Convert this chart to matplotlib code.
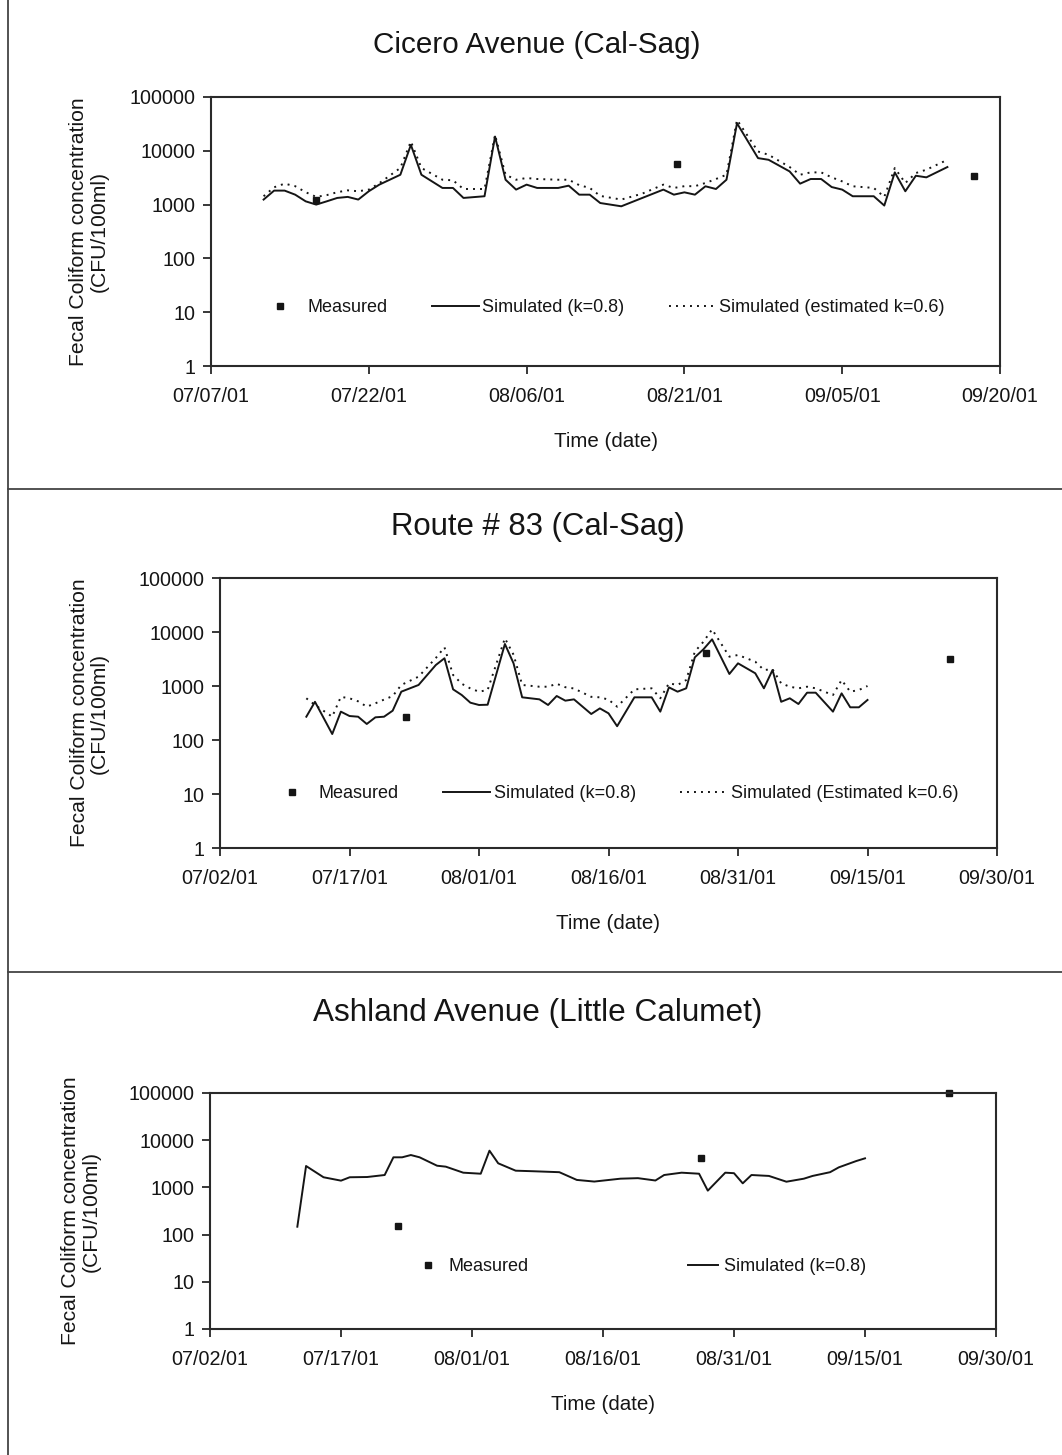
import numpy as np
import pandas as pd
import matplotlib
matplotlib.use("Agg")
import matplotlib.pyplot as plt
from matplotlib.lines import Line2D

plt.rcParams['font.family'] = ['Liberation Sans', 'DejaVu Sans']

# ---- Cicero Avenue (Cal-Sag), days after 07/07/01 ----
cicero_start = "2001-07-07"
cicero_days = [5, 6, 7, 8, 9, 10, 11, 12, 13, 14, 15, 16, 18, 19, 20, 22, 23, 24, 26, 27,
               28, 29, 30, 31, 33, 34, 35, 36, 37, 39, 41, 43, 44, 45, 46, 47, 48, 49, 50, 52,
               53, 55, 56, 57, 58, 59, 60, 61, 63, 64, 65, 66, 67, 68, 70]
cicero_sim08 = [1240, 1820, 1820, 1530, 1150, 1000, 1150, 1330, 1390, 1240, 1770, 2350, 3590, 12900, 3590, 2040, 2040, 1330, 1430, 18400,
                2900, 1900, 2350, 2040, 2040, 2250, 1530, 1530, 1070, 930, 1330, 1900, 1530, 1690, 1530, 2190, 1950, 2900, 32500, 7310,
                6810, 4140, 2450, 2990, 2990, 2120, 1900, 1430, 1430, 960, 3970, 1770, 3440, 3210, 4990]
cicero_sim06 = [1430, 2100, 2450, 2200, 1700, 1390, 1500, 1700, 1840, 1770, 1900, 2500, 4800, 14900, 4800, 2900, 2830, 1950, 1950, 19800,
                3590, 2900, 3120, 2990, 2900, 2900, 2300, 2040, 1450, 1240, 1600, 2350, 2040, 2200, 2200, 2520, 2990, 3590, 37500, 9700,
                8430, 5000, 3590, 3970, 3970, 3210, 2700, 2190, 2040, 1390, 4780, 2520, 3860, 4450, 6800]
cicero_meas_days = [10, 44.3, 72.5]
cicero_meas = [1240, 5750, 3450]

# ---- Route # 83 (Cal-Sag), days after 07/02/01 ----
route_start = "2001-07-02"
route_days = [10, 11, 13, 14, 15, 16, 17, 18, 19, 20, 21, 23, 25, 26, 27, 28, 29, 30, 31, 33,
              34, 35, 37, 38, 39, 40, 41, 43, 44, 45, 46, 48, 50, 51, 52, 53, 54, 55, 56, 57,
              59, 60, 62, 63, 64, 65, 66, 67, 68, 69, 71, 72, 73, 74, 75]
route_sim08 = [270, 510, 129, 335, 278, 270, 198, 263, 270, 349, 785, 1045, 2450, 3260, 867, 681, 491, 445, 450, 6000,
               2630, 617, 566, 445, 653, 535, 566, 303, 385, 312, 180, 617, 617, 335, 944, 785, 906, 3400, 4790, 7310,
               1670, 2630, 1720, 906, 1980, 510, 592, 464, 752, 752, 335, 731, 403, 403, 551]
route_sim06 = [592, 445, 270, 630, 592, 520, 414, 478, 560, 650, 1045, 1490, 3300, 5200, 1600, 1100, 900, 785, 843, 7640,
               3800, 1045, 970, 970, 1100, 950, 900, 630, 617, 560, 414, 867, 906, 592, 1120, 1045, 1290, 4330, 6610, 11200,
               3490, 3750, 2820, 1980, 2040, 1120, 970, 906, 970, 906, 681, 1290, 785, 843, 1000]
route_meas_days = [21.5, 56.3, 84.5]
route_meas = [270, 4140, 3160]

# ---- Ashland Avenue (Little Calumet), days after 07/02/01 ----
ashland_start = "2001-07-02"
ashland_days = [10, 11, 13, 15, 16, 18, 20, 21, 22, 23, 24, 26, 27, 29, 31, 32, 33, 35, 37, 40,
                42, 44, 47, 49, 51, 52, 54, 56, 57, 59, 60, 61, 62, 64, 66, 68, 69, 71, 72, 74, 75]
ashland_sim08 = [147, 2840, 1640, 1390, 1640, 1660, 1830, 4340, 4340, 4850, 4340, 2880, 2750, 2050, 1950, 6000, 3240, 2260, 2200, 2100,
                 1440, 1330, 1530, 1570, 1400, 1830, 2050, 1950, 853, 2050, 2000, 1220, 1830, 1750, 1320, 1530, 1750, 2100, 2660, 3620, 4130]
ashland_meas_days = [21.5, 56.2, 84.6]
ashland_meas = [152, 4130, 100000]

ytick_vals = [1, 10, 100, 1000, 10000, 100000]

INK = '#151515'

fig = plt.figure(figsize=(10.62, 14.55), dpi=100)
W, H = 1062.0, 1455.0


def px_axes(left, top, right, bottom):
    return fig.add_axes([left / W, 1 - bottom / H, (right - left) / W, (bottom - top) / H])


def style_axes(ax, start, span, step, ylabel_x):
    ax.set_yscale('log')
    ax.set_ylim(1, 100000)
    ax.set_yticks(ytick_vals)
    ax.set_yticklabels([str(v) for v in ytick_vals])
    ax.yaxis.set_minor_locator(matplotlib.ticker.NullLocator())
    ax.set_xlim(0, span)
    ticks = np.arange(0, span + 1, step)
    ax.set_xticks(ticks)
    ax.set_xticklabels([(pd.Timestamp(start) + pd.Timedelta(days=int(t))).strftime('%m/%d/%y') for t in ticks])
    ax.tick_params(axis='both', direction='out', length=6, width=1.2, labelsize=14.2, colors=INK)
    ax.tick_params(axis='x', pad=9)
    ax.tick_params(axis='y', pad=5)
    for s in ax.spines.values():
        s.set_linewidth(1.5)
        s.set_color('#2a2a2a')
    ax.set_xlabel('Time (date)', fontsize=14.8, labelpad=19, color=INK)
    ax.set_ylabel('Fecal Coliform concentration\n(CFU/100ml)', fontsize=15.2, color=INK, linespacing=1.1)
    # the y label's anchor is its right edge; pin it to a fixed page column
    bbox = ax.get_position()
    ax.yaxis.set_label_coords((ylabel_x / W - bbox.x0) / bbox.width, 0.5)


dot_style = (0, (1.0, 2.6))

# panel 1
ax1 = px_axes(211, 97, 1000, 366)
ax1.plot(cicero_meas_days, cicero_meas, 's', color=INK, ms=5, label='Measured')
ax1.plot(cicero_days, cicero_sim08, '-', color=INK, lw=1.4, label='Simulated (k=0.8)')
ax1.plot(cicero_days, cicero_sim06, linestyle=dot_style, color=INK, lw=1.4,
         label='Simulated (estimated k=0.6)')
style_axes(ax1, cicero_start, 75, 15, 109)
ax1.legend(loc='center', bbox_to_anchor=(0.494, 0.216), ncol=3, frameon=False, fontsize=13,
           handlelength=2.6, handletextpad=0.2, columnspacing=2.45, borderaxespad=0, labelcolor=INK)
fig.text(537 / W, 1 - 45 / H, 'Cicero Avenue (Cal-Sag)', ha='center', va='center', fontsize=21.3, color=INK)

# panel 2
ax2 = px_axes(220, 578, 997, 848)
ax2.plot(route_meas_days, route_meas, 's', color=INK, ms=5, label='Measured')
ax2.plot(route_days, route_sim08, '-', color=INK, lw=1.4, label='Simulated (k=0.8)')
ax2.plot(route_days, route_sim06, linestyle=dot_style, color=INK, lw=1.4,
         label='Simulated (Estimated k=0.6)')
style_axes(ax2, route_start, 90, 15, 109)
ax2.legend(loc='center', bbox_to_anchor=(0.506, 0.2), ncol=3, frameon=False, fontsize=13,
           handlelength=2.6, handletextpad=0.2, columnspacing=2.45, borderaxespad=0, labelcolor=INK)
fig.text(538 / W, 1 - 527 / H, 'Route # 83 (Cal-Sag)', ha='center', va='center', fontsize=22.4, color=INK)

# panel 3
ax3 = px_axes(210, 1093, 996, 1329)
ax3.plot(ashland_meas_days, ashland_meas, 's', color=INK, ms=5, label='Measured', clip_on=False)
ax3.plot(ashland_days, ashland_sim08, '-', color=INK, lw=1.4, label='Simulated (k=0.8)')
style_axes(ax3, ashland_start, 90, 15, 101)
ax3.legend(loc='center', bbox_to_anchor=(0.546, 0.263), ncol=2, frameon=False, fontsize=13,
           handlelength=1.7, handletextpad=0.3, columnspacing=8.8, borderaxespad=0, labelcolor=INK)
fig.text(538 / W, 1 - 1013 / H, 'Ashland Avenue (Little Calumet)', ha='center', va='center', fontsize=22.7,
         color=INK)

# page frame and panel separators
frame_kw = dict(color='#444444', lw=1.3, transform=fig.transFigure)
fig.add_artist(Line2D([8 / W, 8 / W], [0, 1], **frame_kw))
for ypx in (489, 972):
    fig.add_artist(Line2D([8 / W, 1], [1 - ypx / H, 1 - ypx / H], **frame_kw))

fig.savefig('out.png', dpi=100, facecolor='white')
